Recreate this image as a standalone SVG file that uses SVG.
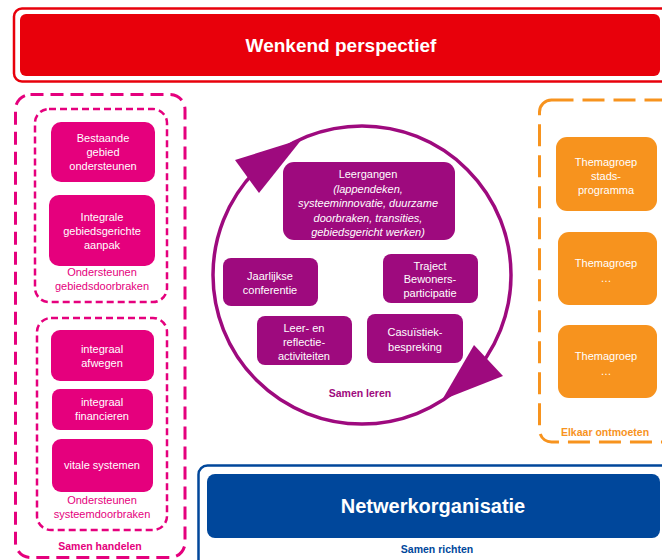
<svg xmlns="http://www.w3.org/2000/svg" width="662" height="560" viewBox="0 0 662 560">
<style>
text{font-family:"Liberation Sans",Arial,sans-serif;}
.t{font-size:11px;fill:#ffffff;text-anchor:middle;}
.ti{font-size:11px;fill:#ffffff;text-anchor:middle;font-style:italic;}
.lbl{font-size:11px;fill:#e5007d;text-anchor:middle;}
.bl{font-size:10.5px;font-weight:bold;text-anchor:middle;}
.mag{fill:#e5007d;}
.pur{fill:#9e0a7e;}
.org{fill:#f7931e;}
.dm{fill:none;stroke:#e5007d;stroke-width:3;stroke-dasharray:13 7;}
.dmi{fill:none;stroke:#e5007d;stroke-width:2.5;stroke-dasharray:7 4;}
.do{fill:none;stroke:#f7931e;stroke-width:3;stroke-dasharray:22 9;}
</style>
<rect width="662" height="560" fill="#ffffff"/>

<g id="wenkend-perspectief">
<rect x="14" y="8.5" width="670" height="73" rx="8" fill="none" stroke="#e8000b" stroke-width="2.5"/>
<rect x="20" y="14" width="640" height="62" rx="6" fill="#e8000b"/>
<text x="341" y="52" style="font-size:19px;font-weight:bold;fill:#ffffff;text-anchor:middle">Wenkend perspectief</text>
</g>

<g id="samen-handelen">
<rect x="15.5" y="94.5" width="169.5" height="463" rx="15" class="dm"/>
<text x="100" y="550" class="bl" fill="#e5007d">Samen handelen</text>
</g>

<g id="ondersteunen-gebiedsdoorbraken">
<rect x="35" y="109" width="132" height="193" rx="14" class="dmi"/>
<text x="102" y="276" class="lbl">Ondersteunen</text>
<text x="102" y="290" class="lbl">gebiedsdoorbraken</text>
</g>
<g id="bestaande-gebied">
<rect x="51" y="122" width="104" height="60" rx="10" class="mag"/>
<text x="103" y="142" class="t">Bestaande</text>
<text x="103" y="156" class="t">gebied</text>
<text x="103" y="170" class="t">ondersteunen</text>
</g>
<g id="integrale-aanpak">
<rect x="49" y="195" width="106" height="71" rx="10" class="mag"/>
<text x="102" y="221" class="t">Integrale</text>
<text x="102" y="235" class="t">gebiedsgerichte</text>
<text x="102" y="249" class="t">aanpak</text>
</g>

<g id="ondersteunen-systeemdoorbraken">
<rect x="37" y="318" width="130" height="212" rx="14" class="dmi"/>
<text x="102" y="504" class="lbl">Ondersteunen</text>
<text x="102" y="518" class="lbl">systeemdoorbraken</text>
</g>
<g id="integraal-afwegen">
<rect x="51" y="330" width="103" height="51" rx="9" class="mag"/>
<text x="102" y="353" class="t">integraal</text>
<text x="102" y="367" class="t">afwegen</text>
</g>
<g id="integraal-financieren">
<rect x="52" y="389" width="101" height="41" rx="8" class="mag"/>
<text x="102" y="406" class="t">integraal</text>
<text x="102" y="420" class="t">financieren</text>
</g>
<g id="vitale-systemen">
<rect x="52" y="439" width="101" height="53" rx="9" class="mag"/>
<text x="102" y="469" class="t">vitale systemen</text>
</g>

<g id="samen-leren">
<circle cx="362" cy="275" r="149" fill="none" stroke="#9e0a7e" stroke-width="3.5"/>
<polygon points="235,160 302,139 259,193" class="pur"/>
<polygon points="474,345 503,376 442,400" class="pur"/>
<text x="360" y="397" class="bl" fill="#9e0a7e">Samen leren</text>
</g>
<g id="leergangen">
<rect x="283" y="162" width="172" height="78" rx="11" class="pur"/>
<text x="368" y="178" class="t">Leergangen</text>
<text x="368" y="192.5" class="ti">(lappendeken,</text>
<text x="368" y="207" class="ti">systeeminnovatie, duurzame</text>
<text x="368" y="221.5" class="ti">doorbraken, transities,</text>
<text x="368" y="236" class="ti">gebiedsgericht werken)</text>
</g>
<g id="jaarlijkse-conferentie">
<rect x="223" y="258" width="95" height="48" rx="8" class="pur"/>
<text x="270" y="280" class="t">Jaarlijkse</text>
<text x="270" y="294" class="t">conferentie</text>
</g>
<g id="traject-bewonersparticipatie">
<rect x="383" y="254" width="95" height="49" rx="8" class="pur"/>
<text x="430" y="270" class="t">Traject</text>
<text x="430" y="283" class="t">Bewoners-</text>
<text x="430" y="297" class="t">participatie</text>
</g>
<g id="leer-en-reflectie">
<rect x="257" y="316" width="95" height="49" rx="8" class="pur"/>
<text x="304" y="332" class="t">Leer- en</text>
<text x="304" y="346" class="t">reflectie-</text>
<text x="304" y="360" class="t">activiteiten</text>
</g>
<g id="casuistiek">
<rect x="367" y="314" width="96" height="49" rx="8" class="pur"/>
<text x="415" y="336" class="t">Casuïstiek-</text>
<text x="415" y="351" class="t">bespreking</text>
</g>

<g id="elkaar-ontmoeten">
<rect x="539.5" y="100" width="160" height="342" rx="12" class="do"/>
<text x="605" y="436" class="bl" fill="#f7931e">Elkaar ontmoeten</text>
</g>
<g id="themagroep-1">
<rect x="556" y="137" width="101" height="74" rx="11" class="org"/>
<text x="606" y="166" class="t">Themagroep</text>
<text x="606" y="180" class="t">stads-</text>
<text x="606" y="194" class="t">programma</text>
</g>
<g id="themagroep-2">
<rect x="558" y="232" width="99" height="73" rx="11" class="org"/>
<text x="606" y="267" class="t">Themagroep</text>
<text x="606" y="282" class="t">…</text>
</g>
<g id="themagroep-3">
<rect x="558" y="325" width="99" height="73" rx="11" class="org"/>
<text x="606" y="360" class="t">Themagroep</text>
<text x="606" y="375" class="t">…</text>
</g>

<g id="netwerkorganisatie">
<rect x="198.5" y="465.5" width="490" height="110" rx="9" fill="none" stroke="#00479b" stroke-width="2.5"/>
<rect x="207" y="474" width="453" height="64" rx="8" fill="#00479b"/>
<text x="433" y="513" style="font-size:20px;font-weight:bold;fill:#ffffff;text-anchor:middle">Netwerkorganisatie</text>
<text x="437" y="553" class="bl" fill="#00479b">Samen richten</text>
</g>

<g id="connectors"></g>
</svg>
